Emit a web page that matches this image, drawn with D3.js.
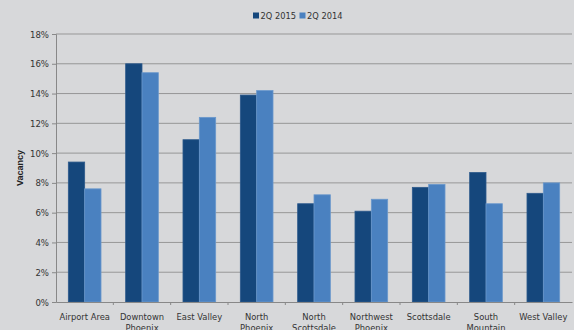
<!DOCTYPE html>
<html>
<head>
<meta charset="utf-8">
<script src="https://cdn.jsdelivr.net/npm/d3@7"></script>
<style>
  html, body { margin: 0; padding: 0; background: #d7d8da; }
  svg { display: block; }
  .tick text { fill: #333; }
</style>
</head>
<body>
<div id="chart"></div>
<script>
const categories = ["Airport Area", "Downtown Phoenix", "East Valley", "North Phoenix",
  "North Scottsdale", "Northwest Phoenix", "Scottsdale", "South Mountain", "West Valley"];
const series = ["2Q 2015", "2Q 2014"];
const vac2015 = [9.4, 16.0, 10.9, 13.9, 6.6, 6.1, 7.7, 8.7, 7.3];
const vac2014 = [7.6, 15.4, 12.4, 14.2, 7.2, 6.9, 7.9, 6.6, 8.0];
const yTicks = [0, 2, 4, 6, 8, 10, 12, 14, 16, 18];
const colors = ["#15477c", "#4a81c0"];

const width = 574, height = 330;
const margin = { top: 34, right: 2, bottom: 28, left: 56 };
const innerW = width - margin.left - margin.right;
const innerH = height - margin.top - margin.bottom;
const font = "'Liberation Sans Narrow', 'DejaVu Sans Condensed', 'Liberation Sans', sans-serif";

const svg = d3.select("#chart").append("svg")
  .attr("width", width)
  .attr("height", height)
  .style("font-family", font);

const g = svg.append("g")
  .attr("transform", "translate(" + margin.left + "," + margin.top + ")");

const x = d3.scaleBand().domain(categories).range([0, innerW]).paddingInner(0.43).paddingOuter(0.215);
const x1 = d3.scaleBand().domain(series).range([0, x.bandwidth()]);
const y = d3.scaleLinear().domain([0, 18]).range([innerH, 0]);

// gridlines
g.selectAll("line.grid")
  .data(yTicks.slice(1))
  .enter().append("line")
  .attr("class", "grid")
  .attr("x1", 0).attr("x2", innerW)
  .attr("y1", d => y(d)).attr("y2", d => y(d))
  .attr("stroke", "#979797")
  .attr("stroke-width", 1);

// bars
const rows = categories.map((c, i) => ({ cat: c, vals: [vac2015[i], vac2014[i]] }));
const grp = g.selectAll("g.cat")
  .data(rows)
  .enter().append("g")
  .attr("transform", d => "translate(" + x(d.cat) + ",0)");

grp.selectAll("rect")
  .data(d => d.vals.map((v, j) => ({ s: series[j], v: v, j: j })))
  .enter().append("rect")
  .attr("x", d => x1(d.s))
  .attr("width", x1.bandwidth())
  .attr("y", d => y(d.v))
  .attr("height", d => innerH - y(d.v))
  .attr("fill", d => colors[d.j])
  .attr("stroke", d => d.j === 0 ? "#2d5a8c" : "#6a98cc")
  .attr("stroke-width", 0.8);

// y axis
const yAxis = g.append("g")
  .call(d3.axisLeft(y).tickValues(yTicks).tickFormat(d => d + "%").tickSize(4).tickPadding(3));
yAxis.select(".domain").attr("stroke", "#888");
yAxis.selectAll(".tick line").attr("stroke", "#888");
yAxis.selectAll(".tick text").style("font-size", "9.5px").style("font-family", font);

// x axis
const xAxis = g.append("g")
  .attr("transform", "translate(0," + innerH + ")")
  .call(d3.axisBottom(x).tickSize(0).tickPadding(7));
xAxis.select(".domain").attr("stroke", "#888");
xAxis.selectAll(".tick text").remove();
xAxis.selectAll(".tick").each(function(d) {
  const words = d.split(" ");
  const lines = (d === "Airport Area" || d === "East Valley" || d === "West Valley" || d === "Scottsdale")
    ? [d] : [words.slice(0, -1).join(" "), words[words.length - 1]];
  const t = d3.select(this).append("text")
    .attr("fill", "#333")
    .attr("text-anchor", "middle")
    .style("font-size", "9.3px")
    .style("font-family", font);
  lines.forEach((l, k) => {
    t.append("tspan").attr("x", 0).attr("y", 18 + k * 11).text(l);
  });
});
// category separator ticks
const step = x.step();
g.selectAll("line.sep")
  .data(categories.slice(1))
  .enter().append("line")
  .attr("class", "sep")
  .attr("x1", d => x(d) - x.paddingInner() * step / 2)
  .attr("x2", d => x(d) - x.paddingInner() * step / 2)
  .attr("y1", innerH).attr("y2", innerH + 3)
  .attr("stroke", "#888");

// y label
svg.append("text")
  .attr("transform", "translate(23," + (margin.top + innerH / 2) + ") rotate(-90)")
  .attr("text-anchor", "middle")
  .style("font-size", "9px")
  .style("font-weight", "bold")
  .style("font-family", "'Liberation Sans', sans-serif")
  .attr("fill", "#222")
  .text("Vacancy");

// legend
const legend = svg.append("g").attr("transform", "translate(253,11)");
const items = legend.selectAll("g")
  .data(series)
  .enter().append("g")
  .attr("transform", (d, i) => "translate(" + (i * 46.5) + ",0)");
items.append("rect").attr("width", 6).attr("height", 6).attr("y", 1.5)
  .attr("fill", (d, i) => colors[i]);
items.append("text").attr("x", 7.5).attr("y", 8)
  .style("font-size", "9.2px")
  .attr("fill", "#333")
  .text(d => d);
</script>
</body>
</html>
